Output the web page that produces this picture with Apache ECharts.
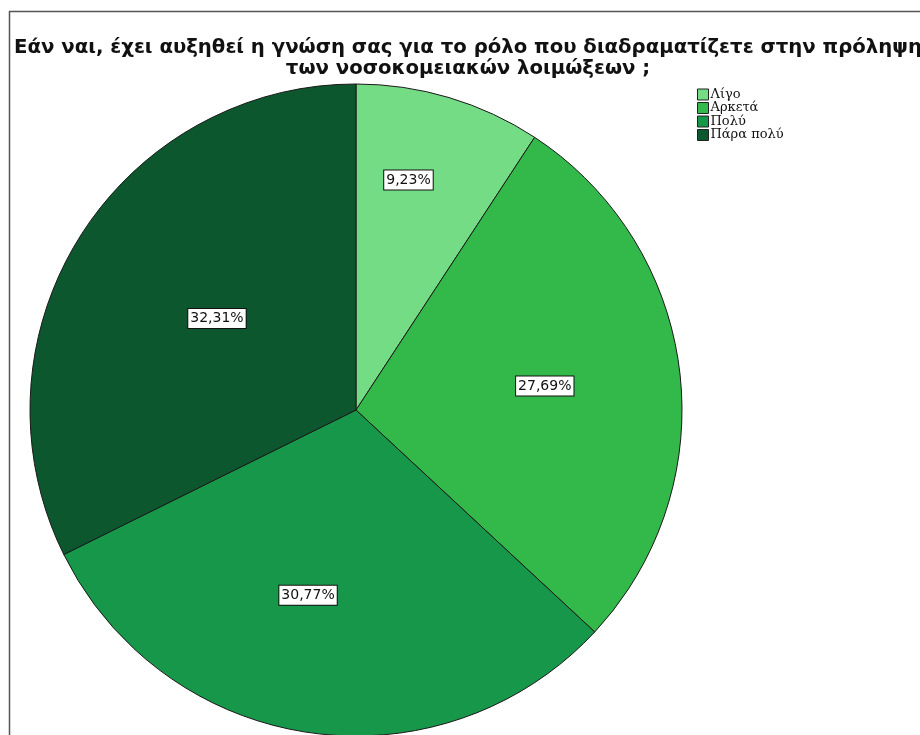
<!DOCTYPE html>
<html>
<head>
<meta charset="utf-8">
<script src="https://cdn.jsdelivr.net/npm/echarts@6/dist/echarts.min.js"></script>
<style>
  html, body { margin: 0; padding: 0; background: #fff; }
  #chart { width: 920px; height: 735px; }
</style>
</head>
<body>
<div id="chart"></div>
<script>
// Chart data
const categories = ['Λίγο', 'Αρκετά', 'Πολύ', 'Πάρα πολύ'];
const percentages = [9.23, 27.69, 30.77, 32.31];
const sliceColors = ['#74dc84', '#33b94a', '#16974a', '#0c572d'];
// nudge each label away from the default inside spot (px)
const labelShift = [[5, -71], [24, -4], [-24, 21], [2, -4]];

const titleText = 'Εάν ναι, έχει αυξηθεί η γνώση σας για το ρόλο που διαδραματίζετε στην πρόληψη\nτων νοσοκομειακών λοιμώξεων ;';

const center = [356, 410];

const chart = echarts.init(document.getElementById('chart'));

const pieData = categories.map((name, i) => ({
    name: name,
    value: percentages[i],
    itemStyle: { color: sliceColors[i] }
}));

chart.setOption({
    animation: false,
    backgroundColor: '#fff',
    title: {
        text: titleText,
        left: 463,
        top: 32,
        textAlign: 'center',
        textStyle: {
            fontFamily: 'DejaVu Sans, sans-serif',
            fontSize: 19.7,
            fontWeight: 'bold',
            color: '#111',
            lineHeight: 21,
            align: 'center'
        }
    },
    legend: {
        orient: 'vertical',
        left: 697,
        top: 88,
        padding: 0,
        itemWidth: 11,
        itemHeight: 11,
        itemGap: 0.5,
        icon: 'rect',
        data: categories,
        itemStyle: { borderColor: '#222', borderWidth: 1 },
        textStyle: {
            fontFamily: 'DejaVu Serif, serif',
            fontSize: 13,
            lineHeight: 12,
            color: '#111',
            padding: [0, 0, 0, -3]
        }
    },
    graphic: [{
        type: 'polyline',
        shape: { points: [[9.5, 740], [9.5, 11.5], [925, 11.5]] },
        style: { stroke: '#555', lineWidth: 1.5, fill: null },
        silent: true
    }],
    series: [{
        type: 'pie',
        center: center,
        radius: 326,
        startAngle: 90,
        clockwise: true,
        data: pieData,
        itemStyle: { borderColor: '#1a1a1a', borderWidth: 1 },
        emphasis: { disabled: true },
        label: {
            show: true,
            position: 'inside',
            formatter: p => p.value.toFixed(2).replace('.', ',') + '%',
            fontFamily: 'DejaVu Sans, sans-serif',
            fontSize: 14,
            color: '#111',
            backgroundColor: '#fff',
            borderColor: '#111',
            borderWidth: 1,
            padding: [3, 2, 2, 2]
        },
        labelLine: { show: false },
        labelLayout: function (params) {
            const r = params.labelRect;
            const s = labelShift[params.dataIndex];
            return {
                x: r.x + r.width / 2 + s[0],
                y: r.y + r.height / 2 + s[1],
                align: 'center',
                verticalAlign: 'middle'
            };
        }
    }]
});

window.addEventListener('resize', function() {
    chart.resize();
});
</script>
</body>
</html>
